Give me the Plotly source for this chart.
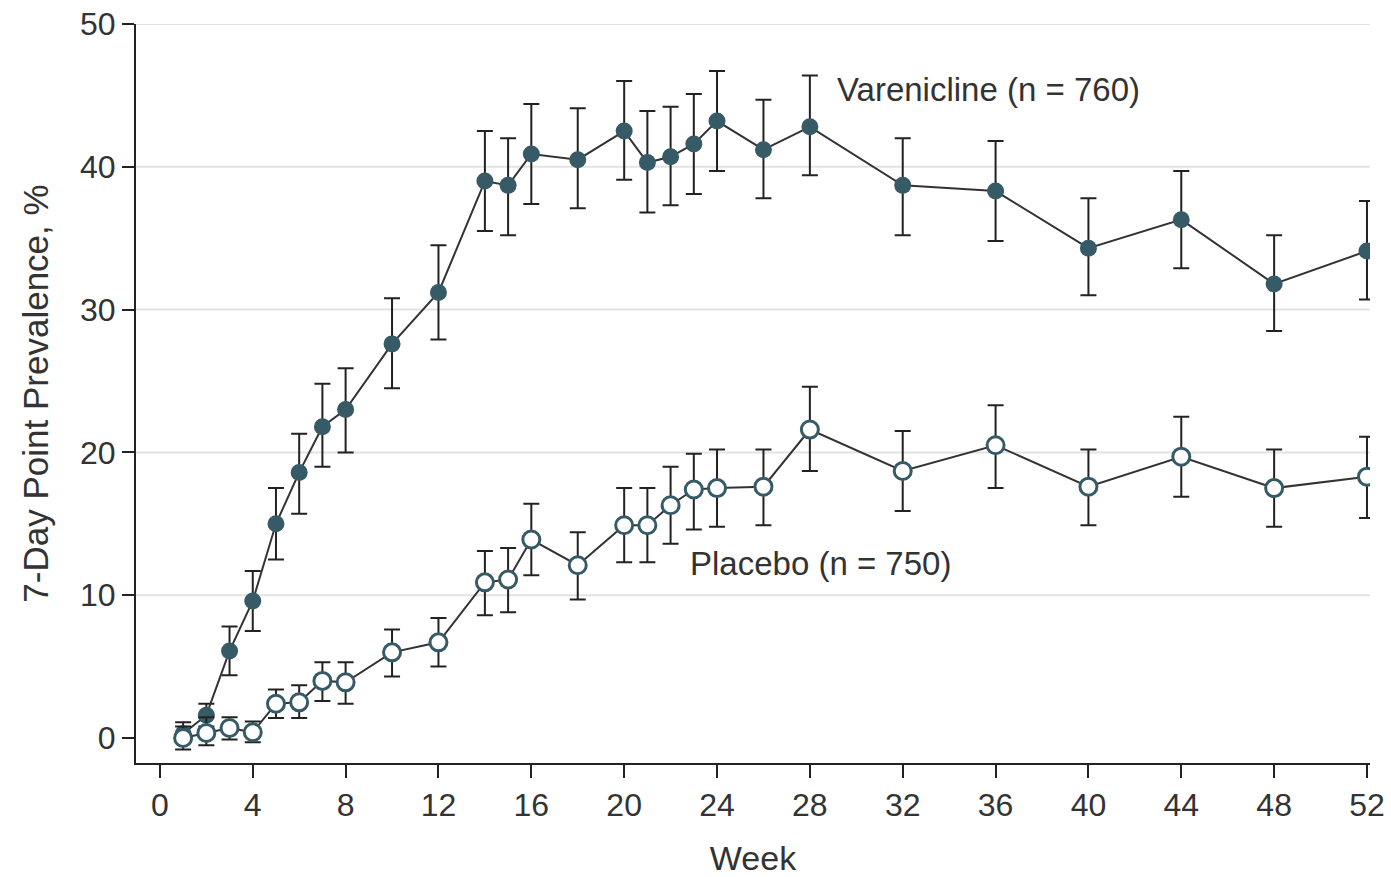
import plotly.graph_objects as go

# ---------------- data ----------------
var_weeks = [1, 2, 3, 4, 5, 6, 7, 8, 10, 12, 14, 15, 16, 18, 20, 21, 22, 23, 24, 26, 28, 32, 36, 40, 44, 48, 52]
var_value = [0.3, 1.6, 6.1, 9.6, 15.0, 18.6, 21.8, 23.0, 27.6, 31.2, 39.0, 38.7, 40.9, 40.5, 42.5, 40.3,
             40.7, 41.6, 43.2, 41.2, 42.8, 38.7, 38.3, 34.3, 36.3, 31.8, 34.1]
var_ci_low = [-0.3, 0.8, 4.4, 7.5, 12.5, 15.7, 19.0, 20.0, 24.5, 27.9, 35.5, 35.2, 37.4, 37.1, 39.1, 36.8,
              37.3, 38.1, 39.7, 37.8, 39.4, 35.2, 34.8, 31.0, 32.9, 28.5, 30.7]
var_ci_high = [1.1, 2.4, 7.8, 11.7, 17.5, 21.3, 24.8, 25.9, 30.8, 34.5, 42.5, 42.0, 44.4, 44.1, 46.0, 43.9,
               44.2, 45.1, 46.7, 44.7, 46.4, 42.0, 41.8, 37.8, 39.7, 35.2, 37.6]

pla_weeks = [1, 2, 3, 4, 5, 6, 7, 8, 10, 12, 14, 15, 16, 18, 20, 21, 22, 23, 24, 26, 28, 32, 36, 40, 44, 48, 52]
pla_value = [0.0, 0.35, 0.7, 0.4, 2.4, 2.5, 4.0, 3.9, 6.0, 6.7, 10.9, 11.1, 13.9, 12.1, 14.9, 14.9,
             16.3, 17.4, 17.5, 17.6, 21.6, 18.7, 20.5, 17.6, 19.7, 17.5, 18.3]
pla_ci_low = [-0.8, -0.5, -0.1, -0.3, 1.4, 1.4, 2.6, 2.4, 4.3, 5.0, 8.6, 8.8, 11.4, 9.7, 12.3, 12.3,
              13.6, 14.6, 14.8, 14.9, 18.7, 15.9, 17.5, 14.9, 16.9, 14.8, 15.4]
pla_ci_high = [0.8, 1.45, 1.45, 1.15, 3.4, 3.7, 5.3, 5.3, 7.6, 8.4, 13.1, 13.3, 16.4, 14.4, 17.5, 17.5,
               19.0, 19.9, 20.2, 20.2, 24.6, 21.5, 23.3, 20.2, 22.5, 20.2, 21.1]

x_ticks = [0, 4, 8, 12, 16, 20, 24, 28, 32, 36, 40, 44, 48, 52]
y_ticks = [0, 10, 20, 30, 40, 50]
grid_lines = [10, 20, 30, 40, 50]

var_label = "Varenicline (n = 760)"
pla_label = "Placebo (n = 750)"
x_title = "Week"
y_title = "7-Day Point Prevalence, %"

# ---------------- style ----------------
FONT = "Liberation Sans, Arial, sans-serif"
TXT = "#333333"
TEAL = "#375a67"
LINE = "#333333"
ERR = "#222222"


def err(vals, lo, hi):
    return dict(type="data", symmetric=False,
                array=[h - v for v, h in zip(vals, hi)],
                arrayminus=[v - l for v, l in zip(vals, lo)],
                color=ERR, thickness=2, width=8)


fig = go.Figure()

fig.add_trace(go.Scatter(
    x=var_weeks, y=var_value, mode="lines+markers", name=var_label,
    line=dict(color=LINE, width=2),
    marker=dict(symbol="circle", size=17, color=TEAL, line=dict(width=0)),
    error_y=err(var_value, var_ci_low, var_ci_high),
    showlegend=False,
))

fig.add_trace(go.Scatter(
    x=pla_weeks, y=pla_value, mode="lines+markers", name=pla_label,
    line=dict(color=LINE, width=2),
    marker=dict(symbol="circle", size=17, color="white", line=dict(width=3, color=TEAL)),
    error_y=err(pla_value, pla_ci_low, pla_ci_high),
    showlegend=False,
))

for g in grid_lines:
    fig.add_shape(type="line", xref="paper", yref="y", x0=0, x1=1, y0=g, y1=g,
                  line=dict(color="#e3e3e3", width=2), layer="below")

fig.add_annotation(x=29.1, y=45.4, text=var_label, showarrow=False, xanchor="left", yanchor="middle",
                   font=dict(family=FONT, size=33, color=TXT))
fig.add_annotation(x=22.75, y=12.2, text=pla_label, showarrow=False, xanchor="left", yanchor="middle",
                   font=dict(family=FONT, size=33, color=TXT))

fig.update_layout(
    width=1391, height=877,
    margin=dict(l=136, r=21, t=24, b=114),
    paper_bgcolor="white", plot_bgcolor="white",
    font=dict(family=FONT, color=TXT),
)

fig.update_xaxes(
    range=[-1.03, 52.13], tickvals=x_ticks, ticktext=[str(t) for t in x_ticks],
    showgrid=False, zeroline=False, automargin=False,
    showline=True, linecolor="#222222", linewidth=2,
    ticks="outside", ticklen=13, tickwidth=2, tickcolor="#222222",
    tickfont=dict(family=FONT, size=32, color=TXT), ticklabeloverflow="allow",
    title=dict(text=x_title, font=dict(family=FONT, size=34, color=TXT), standoff=24),
)
fig.update_yaxes(
    range=[-1.75, 50], tickvals=y_ticks, ticktext=[str(t) for t in y_ticks],
    showgrid=False, zeroline=False, automargin=False,
    showline=True, linecolor="#222222", linewidth=2,
    ticks="outside", ticklen=12, tickwidth=2, tickcolor="#222222",
    tickfont=dict(family=FONT, size=32, color=TXT), ticklabeloverflow="allow",
    title=dict(text=y_title, font=dict(family=FONT, size=35, color=TXT), standoff=21),
)

fig.write_html(
    "out.html",
    config={"displayModeBar": False},
    post_script="document.body.style.margin='0';document.body.style.overflow='hidden';",
)
